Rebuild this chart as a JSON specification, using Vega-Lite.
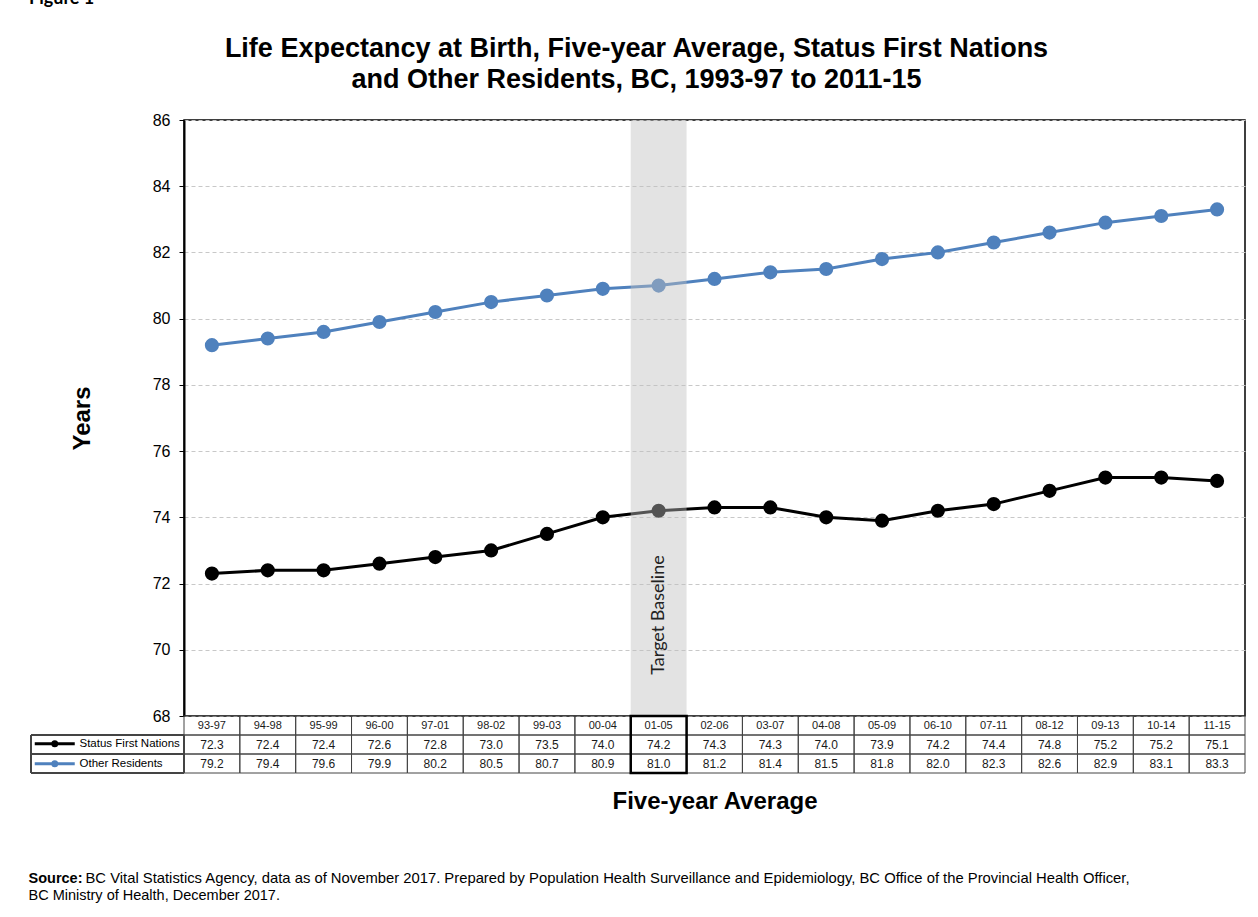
{
  "$schema": "https://vega.github.io/schema/vega-lite/v6.json",
  "autosize": {"type": "pad"},
  "padding": {"left": 28, "top": -10, "right": 14, "bottom": 10},
  "background": "white",
  "config": {"view": {"stroke": null}, "font": "Liberation Sans"},
  "data": {"values": [
    {"period": "93-97", "Status First Nations": 72.3, "Other Residents": 79.2},
    {"period": "94-98", "Status First Nations": 72.4, "Other Residents": 79.4},
    {"period": "95-99", "Status First Nations": 72.4, "Other Residents": 79.6},
    {"period": "96-00", "Status First Nations": 72.6, "Other Residents": 79.9},
    {"period": "97-01", "Status First Nations": 72.8, "Other Residents": 80.2},
    {"period": "98-02", "Status First Nations": 73.0, "Other Residents": 80.5},
    {"period": "99-03", "Status First Nations": 73.5, "Other Residents": 80.7},
    {"period": "00-04", "Status First Nations": 74.0, "Other Residents": 80.9},
    {"period": "01-05", "Status First Nations": 74.2, "Other Residents": 81.0},
    {"period": "02-06", "Status First Nations": 74.3, "Other Residents": 81.2},
    {"period": "03-07", "Status First Nations": 74.3, "Other Residents": 81.4},
    {"period": "04-08", "Status First Nations": 74.0, "Other Residents": 81.5},
    {"period": "05-09", "Status First Nations": 73.9, "Other Residents": 81.8},
    {"period": "06-10", "Status First Nations": 74.2, "Other Residents": 82.0},
    {"period": "07-11", "Status First Nations": 74.4, "Other Residents": 82.3},
    {"period": "08-12", "Status First Nations": 74.8, "Other Residents": 82.6},
    {"period": "09-13", "Status First Nations": 75.2, "Other Residents": 82.9},
    {"period": "10-14", "Status First Nations": 75.2, "Other Residents": 83.1},
    {"period": "11-15", "Status First Nations": 75.1, "Other Residents": 83.3}
  ]},
  "columns": 2,
  "spacing": 0,
  "bounds": "flush",
  "resolve": {"scale": {"color": "independent"}, "legend": {"color": "independent"}},
  "concat": [
    {
      "width": 153,
      "height": 596,
      "title": {"text": "Figure 1", "anchor": "start", "offset": 112, "dx": -2, "font": "Lato", "fontSize": 18, "fontWeight": "bold", "color": "black"},
      "mark": {"type": "text"},
      "encoding": {"text": {"value": ""}}
    },
    {
      "width": 1061,
      "height": 596,
      "view": {"stroke": "black", "strokeWidth": 1.5},
      "title": {
        "text": ["Life Expectancy at Birth, Five-year Average, Status First Nations", "and Other Residents, BC, 1993-97 to 2011-15"],
        "anchor": "middle", "dx": -78, "offset": 18,
        "font": "Liberation Sans", "fontSize": 27, "fontWeight": "bold", "lineHeight": 31, "color": "black"
      },
      "transform": [{"fold": ["Status First Nations", "Other Residents"], "as": ["series", "value"]}],
      "encoding": {
        "x": {"field": "period", "type": "ordinal", "sort": null, "scale": {"type": "band", "paddingInner": 0, "paddingOuter": 0}, "axis": null}
      },
      "layer": [
        {
          "mark": {"type": "line", "strokeWidth": 3},
          "encoding": {
            "y": {"field": "value", "type": "quantitative", "scale": {"domain": [68, 86], "nice": false, "zero": false},
              "axis": {"values": [68, 70, 72, 74, 76, 78, 80, 82, 84, 86], "title": "Years", "grid": true, "gridColor": "#c8c8c8", "gridDash": [4, 3], "gridWidth": 1,
                "domainColor": "black", "domainWidth": 2, "tickColor": "black", "tickSize": 5, "tickWidth": 1,
                "labelFont": "Liberation Sans", "labelFontSize": 16, "labelColor": "black", "labelPadding": 9,
                "titleFont": "Liberation Sans", "titleFontSize": 24, "titleFontWeight": "bold", "titleColor": "black", "titlePadding": 58}},
            "color": {"field": "series", "type": "nominal",
              "scale": {"domain": ["Status First Nations", "Other Residents"], "range": ["#000000", "#4f81bd"]},
              "legend": {"orient": "none", "legendX": -135, "legendY": 618, "title": null, "direction": "vertical",
                "labelFont": "Liberation Sans", "labelFontSize": 11.5, "labelColor": "black",
                "symbolType": "M-5,0H5M-0.5,0A0.5,0.5,0,1,1,0.5,0A0.5,0.5,0,1,1,-0.5,0Z",
                "symbolSize": 64, "symbolStrokeWidth": 3, "labelOffset": 19, "rowPadding": 3, "padding": 0,
                "encode": {"symbols": {"update": {"fill": {"scale": "color", "field": "value"}, "stroke": {"scale": "color", "field": "value"}, "strokeWidth": {"value": 3}, "opacity": {"value": 1}}}}}}
          }
        },
        {
          "mark": {"type": "point", "filled": true, "size": 200, "opacity": 1},
          "encoding": {
            "y": {"field": "value", "type": "quantitative"},
            "color": {"field": "series", "type": "nominal"}
          }
        },
        {
          "transform": [{"filter": "datum.period === '01-05' && datum.series === 'Status First Nations'"}],
          "mark": {"type": "rect", "color": "#c0c0c0", "opacity": 0.44}
        },
        {
          "transform": [{"filter": "datum.period === '01-05' && datum.series === 'Status First Nations'"}],
          "mark": {"type": "text", "angle": 270, "font": "Lato", "fontSize": 18, "color": "#222222", "align": "center", "baseline": "middle"},
          "encoding": {"y": {"datum": 71.05}, "text": {"value": "Target Baseline"}}
        }
      ]
    },
    {
      "width": 153,
      "height": 57,
      "title": {
        "text": "Source:",
        "subtitle": "BC Ministry of Health, December 2017.",
        "orient": "bottom", "anchor": "start", "offset": 98, "dx": -2, "limit": 1400,
        "font": "Liberation Sans", "fontSize": 14.5, "fontWeight": "bold", "color": "black",
        "subtitleFont": "Liberation Sans", "subtitleFontSize": 14.5, "subtitleFontWeight": "normal", "subtitleColor": "black", "subtitlePadding": 3
      },
      "transform": [{"fold": ["Status First Nations", "Other Residents"], "as": ["series", "value"]}],
      "mark": {"type": "rect", "filled": false, "stroke": "#444444", "strokeWidth": 1},
      "encoding": {
        "y": {"field": "series", "type": "nominal", "scale": {"type": "band", "domain": ["cat", "Status First Nations", "Other Residents"], "paddingInner": 0, "paddingOuter": 0}, "axis": null}
      }
    },
    {
      "width": 1061,
      "height": 57,
      "title": {"text": "BC Vital Statistics Agency, data as of November 2017. Prepared by Population Health Surveillance and Epidemiology, BC Office of the Provincial Health Officer,",
        "orient": "bottom", "anchor": "start", "offset": 58, "dx": -98, "limit": 1400,
        "font": "Liberation Sans", "fontSize": 14.8, "fontWeight": "normal", "color": "black"},
      "encoding": {
        "x": {"field": "period", "type": "ordinal", "sort": null, "scale": {"type": "band", "paddingInner": 0, "paddingOuter": 0},
          "axis": {"orient": "bottom", "labels": false, "ticks": false, "domain": false, "title": "Five-year Average",
            "titleFont": "Liberation Sans", "titleFontSize": 24, "titleFontWeight": "bold", "titleColor": "black", "titlePadding": 16}}
      },
      "layer": [
        {
          "mark": {"type": "rect", "filled": false, "stroke": "#444444", "strokeWidth": 1},
          "encoding": {"y": {"datum": "cat", "type": "nominal", "scale": {"type": "band", "domain": ["cat", "Status First Nations", "Other Residents"], "paddingInner": 0, "paddingOuter": 0}, "axis": null}}
        },
        {
          "mark": {"type": "text", "font": "Liberation Sans", "fontSize": 11, "color": "#1a1a1a"},
          "encoding": {"y": {"datum": "cat", "type": "nominal"}, "text": {"field": "period", "type": "nominal"}}
        },
        {
          "transform": [{"fold": ["Status First Nations", "Other Residents"], "as": ["series", "value"]}],
          "mark": {"type": "rect", "filled": false, "stroke": "#444444", "strokeWidth": 1},
          "encoding": {"y": {"field": "series", "type": "nominal"}}
        },
        {
          "transform": [{"fold": ["Status First Nations", "Other Residents"], "as": ["series", "value"]}],
          "mark": {"type": "text", "font": "Liberation Sans", "fontSize": 12, "color": "#1a1a1a"},
          "encoding": {"y": {"field": "series", "type": "nominal"}, "text": {"field": "value", "type": "quantitative", "format": ".1f"}}
        },
        {
          "transform": [{"filter": "datum.period === '01-05'"}],
          "mark": {"type": "rect", "filled": false, "stroke": "black", "strokeWidth": 2.5}
        }
      ]
    }
  ]
}
